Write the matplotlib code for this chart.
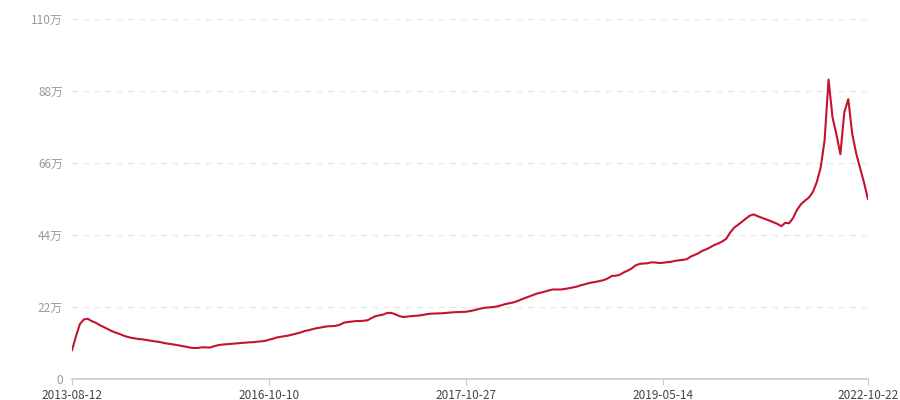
import matplotlib
matplotlib.use("Agg")
import matplotlib.pyplot as plt
import numpy as np

plt.rcParams['font.family'] = ['Noto Sans CJK SC', 'DejaVu Sans']

# values in 万, one per category (date) on the x axis
values = [
    8.8, 13.0, 16.8, 18.2, 18.4, 17.7, 17.2, 16.5, 15.9, 15.3,
    14.7, 14.2, 13.8, 13.3, 12.9, 12.6, 12.4, 12.2, 12.1, 11.9,
    11.7, 11.5, 11.35, 11.1, 10.85, 10.7, 10.5, 10.3, 10.05, 9.85,
    9.6, 9.45, 9.5, 9.7, 9.65, 9.6, 10.0, 10.3, 10.5, 10.6,
    10.7, 10.8, 10.9, 11.0, 11.1, 11.2, 11.25, 11.4, 11.5, 11.65,
    12.0, 12.3, 12.7, 12.9, 13.1, 13.3, 13.6, 13.9, 14.2, 14.65,
    14.9, 15.2, 15.5, 15.7, 15.95, 16.1, 16.15, 16.25, 16.6, 17.2,
    17.4, 17.55, 17.7, 17.7, 17.8, 17.95, 18.6, 19.2, 19.45, 19.7,
    20.2, 20.2, 19.8, 19.25, 18.95, 19.05, 19.2, 19.3, 19.4, 19.55,
    19.8, 19.95, 20.0, 20.05, 20.1, 20.2, 20.3, 20.4, 20.45, 20.5,
    20.55, 20.75, 21.0, 21.3, 21.6, 21.8, 21.9, 22.0, 22.2, 22.55,
    22.9, 23.15, 23.4, 23.8, 24.3, 24.75, 25.2, 25.65, 26.1, 26.4,
    26.7, 27.05, 27.35, 27.35, 27.35, 27.5, 27.7, 27.95, 28.2, 28.6,
    28.9, 29.25, 29.5, 29.7, 29.95, 30.25, 30.75, 31.5, 31.55, 31.85,
    32.55, 33.1, 33.75, 34.7, 35.15, 35.3, 35.35, 35.65, 35.6, 35.45,
    35.5, 35.7, 35.8, 36.1, 36.25, 36.4, 36.6, 37.4, 37.9, 38.45,
    39.2, 39.65, 40.25, 40.95, 41.4, 42.0, 42.8, 44.7, 46.2, 47.1,
    48.0, 49.0, 49.9, 50.3, 49.75, 49.3, 48.85, 48.4, 47.9, 47.4,
    46.7, 47.7, 47.6, 49.2, 51.7, 53.4, 54.5, 55.4, 57.1, 60.1,
    64.6, 73.0, 91.5, 80.0, 74.7, 68.7, 81.5, 85.5, 75.0, 69.0,
    64.5, 60.0, 55.0,
]
tick_idx = [0, 50, 100, 150, 202]
tick_labels = ['2013-08-12', '2016-10-10', '2017-10-27', '2019-05-14', '2022-10-22']
y_ticks = [0, 22, 44, 66, 88, 110]
y_labels = ['0', '22万', '44万', '66万', '88万', '110万']

x = np.arange(len(values))

fig = plt.figure(figsize=(9, 4), dpi=100)
ax = fig.add_axes([0.08, 0.0525, 0.8844, 0.9])

ax.plot(x, values, color='#c4122f', linewidth=1.5, solid_joinstyle='round')

ax.set_xlim(0, len(values) - 1)
ax.set_ylim(0, 110)
ax.set_yticks(y_ticks)
ax.set_yticklabels(y_labels)
ax.set_xticks(tick_idx)
ax.set_xticklabels(tick_labels)

ax.grid(axis='y', color='#e8e8e8', linestyle=(0, (4, 4)), linewidth=1)
ax.set_axisbelow(True)

for s in ['top', 'right', 'left']:
    ax.spines[s].set_visible(False)
ax.spines['bottom'].set_color('#cccccc')
ax.spines['bottom'].set_linewidth(1.2)

ax.tick_params(axis='y', length=0, pad=6.5, labelsize=8.5, labelcolor='#999999')
ax.tick_params(axis='x', length=4, color='#cccccc', pad=3, labelsize=8.5, labelcolor='#444444')

fig.savefig('out.png', dpi=100)
